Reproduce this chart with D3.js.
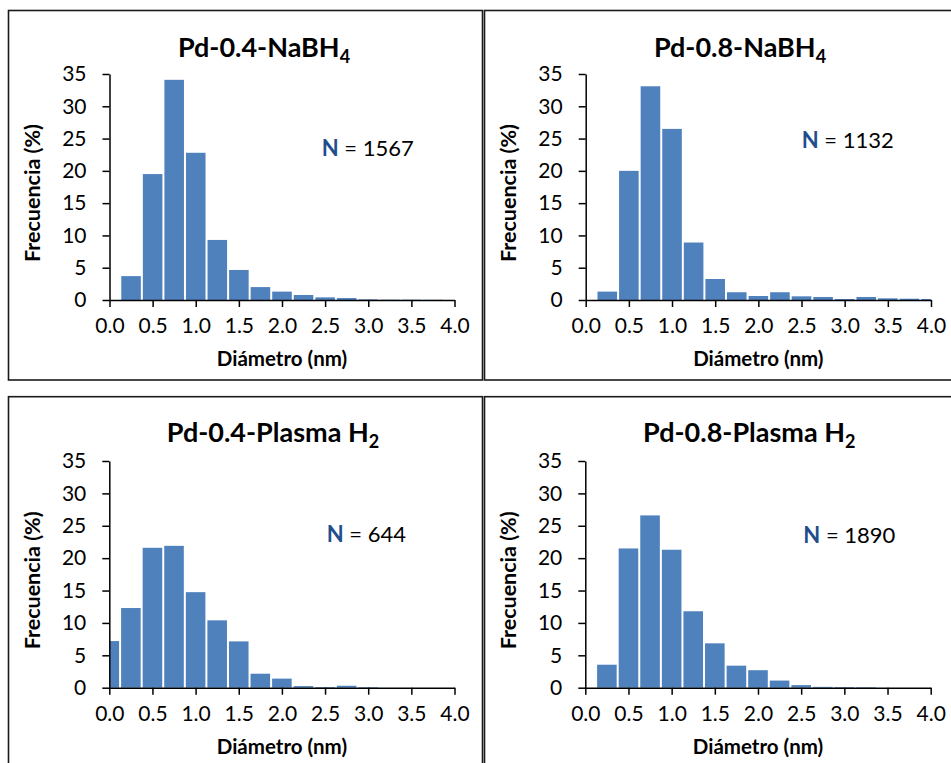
<!DOCTYPE html>
<html><head><meta charset="utf-8">
<script src="https://cdn.jsdelivr.net/npm/d3@7"></script>
<style>
body{margin:0;background:#fff}
svg{display:block}
text{font-family:Lato,"Open Sans",sans-serif}
</style>
</head><body>
<svg id="chart" width="951" height="763"></svg>
<script>
// ---- data ----
const binCenters = [0.0,0.25,0.5,0.75,1.0,1.25,1.5,1.75,2.0,2.25,2.5,2.75,3.0,3.25,3.5,3.75,4.0];
const freqPd04NaBH4  = [0,3.7,19.5,34.1,22.8,9.3,4.65,2.0,1.3,0.77,0.41,0.3,0.1,0.05,0.05,0.03,0];
const freqPd08NaBH4  = [0,1.3,20.0,33.1,26.5,8.9,3.25,1.2,0.62,1.2,0.57,0.47,0.15,0.47,0.26,0.2,0.15];
const freqPd04Plasma = [7.2,12.3,21.6,21.9,14.75,10.4,7.15,2.16,1.4,0.25,0.1,0.3,0.08,0,0,0,0];
const freqPd08Plasma = [0,3.55,21.5,26.6,21.3,11.8,6.85,3.4,2.7,1.1,0.4,0.13,0.1,0.08,0,0,0];
const titleMain = ["Pd-0.4-NaBH","Pd-0.8-NaBH","Pd-0.4-Plasma H","Pd-0.8-Plasma H"];
const titleSub  = ["4","4","2","2"];
const sampleSizes = ["1567","1132","644","1890"];
const xTickValues = [0.0,0.5,1.0,1.5,2.0,2.5,3.0,3.5,4.0];
const yTickValues = [0,5,10,15,20,25,30,35];
const xDomain = [0,4];
const yDomain = [0,35];
const binWidth = 0.25;
const xLabel = "Diámetro (nm)";
const yLabel = "Frecuencia (%)";

// ---- layout ----
const series = [freqPd04NaBH4,freqPd08NaBH4,freqPd04Plasma,freqPd08Plasma];
const layout = [
  {box:[8.5,10.5,474,369.5], left:109.5, top:74, w:345, h:226, tx:264, ty:57, nx:321.7, ny:155.7},
  {box:[484.5,10.5,480,369.5], left:585.7, top:74, w:345.3, h:226, tx:740, ty:57, nx:801.7, ny:147.7},
  {box:[8.5,396.7,474,400], left:109.3, top:461, w:345.2, h:226.7, tx:273, ty:442.3, nx:326.7, ny:542.3},
  {box:[484.5,396.7,480,400], left:585.3, top:461, w:345.4, h:226.7, tx:749.3, ty:442.3, nx:803.3, ny:542.7}
];

const svg = d3.select("#chart");
const barColor = "#4F81BD";

layout.forEach((L,i)=>{
  // panel border
  svg.append("rect").attr("x",L.box[0]).attr("y",L.box[1])
    .attr("width",L.box[2]).attr("height",L.box[3])
    .attr("fill","none").attr("stroke","#1a1a1a").attr("stroke-width",1.6);

  const x = d3.scaleLinear().domain(xDomain).range([L.left, L.left+L.w]);
  const y = d3.scaleLinear().domain(yDomain).range([L.top+L.h, L.top]);
  const g = svg.append("g");

  // bars
  const data = binCenters.map((c,k)=>({c, v:series[i][k]})).filter(d=>d.v>0);
  g.selectAll("rect.bar").data(data).enter().append("rect")
    .attr("class","bar")
    .attr("x",d=>{const a=Math.max(d.c-binWidth/2,xDomain[0]); return x(a)+(a===xDomain[0]?0.5:1);})
    .attr("width",d=>{
      const a=Math.max(d.c-binWidth/2,xDomain[0]), b=Math.min(d.c+binWidth/2,xDomain[1]);
      const x0=x(a)+(a===xDomain[0]?0.5:1), x1=x(b)-(b===xDomain[1]?0:1);
      return Math.max(0,x1-x0);})
    .attr("y",d=>y(d.v))
    .attr("height",d=>y(0)-y(d.v))
    .attr("fill",barColor);

  // x axis
  const xa = g.append("g").attr("transform",`translate(0,${y(0)})`)
    .call(d3.axisBottom(x).tickValues(xTickValues).tickFormat(d3.format(".1f"))
      .tickSize(7).tickSizeOuter(0).tickPadding(11));
  // y axis
  const ya = g.append("g").attr("transform",`translate(${x(0)},0)`)
    .call(d3.axisLeft(y).tickValues(yTickValues).tickFormat(d3.format("d"))
      .tickSize(7).tickSizeOuter(0).tickPadding(16));
  [xa,ya].forEach(a=>{
    a.select(".domain").attr("stroke","#000").attr("stroke-width",1.5);
    a.selectAll(".tick line").attr("stroke","#000").attr("stroke-width",1.5);
    a.selectAll(".tick text").attr("fill","#000").style("font-size","21px").style("font-family","Lato, sans-serif");
  });

  // title
  const t = svg.append("text").attr("x",L.tx).attr("y",L.ty).attr("text-anchor","middle")
    .style("font-size","27px").style("font-weight","bold").attr("fill","#000");
  t.append("tspan").text(titleMain[i]);
  t.append("tspan").attr("dy",6).style("font-size","18px").text(titleSub[i]);

  // axis titles
  svg.append("text").attr("x",L.left+L.w/2).attr("y",y(0)+66).attr("text-anchor","middle")
    .style("font-size","20.5px").style("font-weight","bold").text(xLabel);
  svg.append("text").attr("transform",`translate(${L.left-69.5},${L.top+L.h/2+6}) rotate(-90)`)
    .attr("text-anchor","middle").style("font-size","21.5px").style("font-weight","bold").text(yLabel);

  // N label
  const n = svg.append("text").attr("x",L.nx).attr("y",L.ny).style("font-size","22px");
  n.append("tspan").style("font-weight","bold").attr("fill","#1F4E8C").text("N");
  n.append("tspan").attr("fill","#000").text(" = "+sampleSizes[i]);
});
</script>
</body></html>
